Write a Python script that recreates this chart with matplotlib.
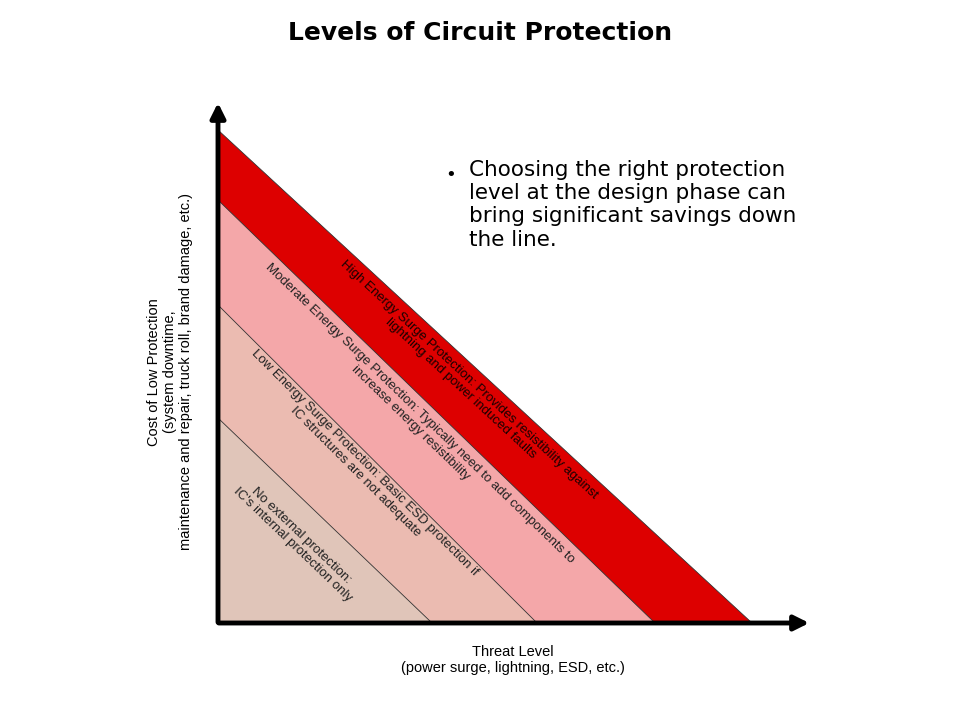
import numpy as np
import matplotlib.pyplot as plt
from matplotlib.patches import Polygon, FancyArrowPatch

# band boundaries (pixel coords): intercept on cost axis, intercept on threat axis
cost_intercepts = [418, 305, 200, 130]
threat_intercepts = [432, 537, 655, 752]
band_colors = ["#e0c5b9", "#ebbbb1", "#f4a7a9", "#dd0000"]
band_labels = [
    "No external protection:\nIC's internal protection only",
    "Low Energy Surge Protection: Basic ESD protection if\nIC structures are not adequate",
    "Moderate Energy Surge Protection: Typically need to add components to\nincrease energy resistibility",
    "High Energy Surge Protection: Provides resistibility against\nlightning and power induced faults",
]
label_centers = [(297, 540), (360, 467), (415, 418), (465, 384)]

OX, OY = 218, 623

fig = plt.figure(figsize=(9.6, 7.2), dpi=100)
ax = fig.add_axes([0, 0, 1, 1])
ax.set_xlim(0, 960)
ax.set_ylim(720, 0)
ax.axis("off")

# draw bands from the top (largest) down
prev = None
for i in reversed(range(len(cost_intercepts))):
    cy, tx = cost_intercepts[i], threat_intercepts[i]
    poly = Polygon([(OX, OY), (OX, cy), (tx, OY)], closed=True,
                   facecolor=band_colors[i], edgecolor="#333333", linewidth=0.6)
    ax.add_patch(poly)

for i, (cx, cy) in enumerate(label_centers):
    dx = threat_intercepts[i] - OX
    dy = OY - cost_intercepts[i]
    ang = -np.degrees(np.arctan2(dy, dx))
    ax.text(cx, cy, band_labels[i], rotation=ang, rotation_mode="anchor",
            ha="center", va="center", fontsize=9.5, family="Liberation Sans",
            color="#1a0000" if i == 3 else "#222222", linespacing=1.1)

# axes arrows
ax.add_patch(FancyArrowPatch((OX, OY + 2), (OX, 100), arrowstyle="-|>",
                             mutation_scale=22, linewidth=3.5, color="black"))
ax.add_patch(FancyArrowPatch((OX - 2, OY), (812, OY), arrowstyle="-|>",
                             mutation_scale=22, linewidth=3.5, color="black"))

ax.text(480, 33, "Levels of Circuit Protection", ha="center", va="center",
        fontsize=18, fontweight="bold", family="DejaVu Sans")

ax.text(513, 660, "Threat Level\n(power surge, lightning, ESD, etc.)", ha="center",
        va="center", fontsize=10.5, family="Liberation Sans", linespacing=1.2)
ax.text(170, 372, "Cost of Low Protection\n(system downtime,\nmaintenance and repair, truck roll, brand damage, etc.)",
        ha="center", va="center", rotation=90, fontsize=10.5, family="Liberation Sans",
        linespacing=1.2)

ax.text(445, 175, "•", ha="left", va="center", fontsize=13, family="DejaVu Sans")
ax.text(469, 160, "Choosing the right protection\nlevel at the design phase can\nbring significant savings down\nthe line.",
        ha="left", va="top", fontsize=15.5, family="DejaVu Sans", linespacing=1.2)

fig.savefig("out.png", dpi=100)
